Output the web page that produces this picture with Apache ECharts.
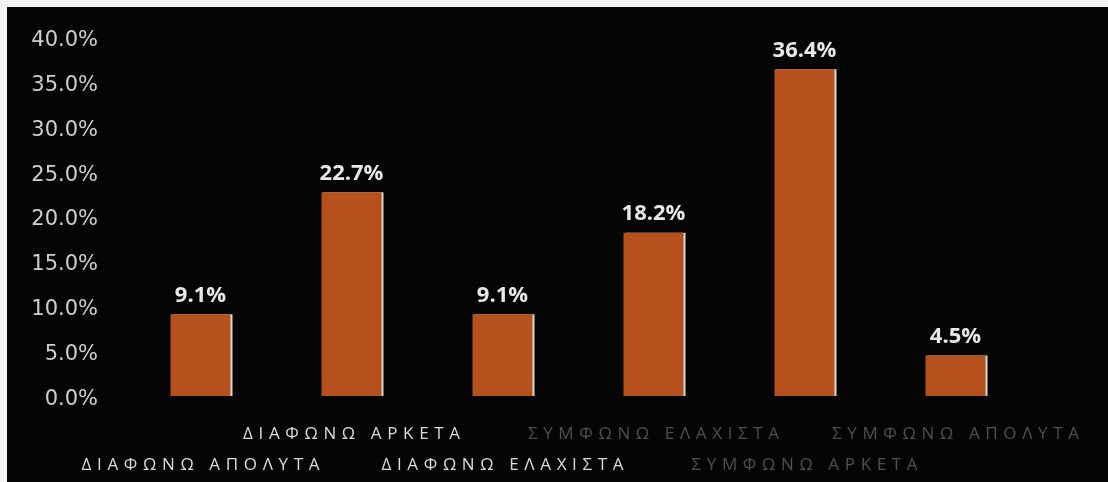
<!DOCTYPE html>
<html>
<head>
<meta charset="utf-8">
<script src="https://cdn.jsdelivr.net/npm/echarts@6/dist/echarts.min.js"></script>
<style>
  html, body { margin: 0; padding: 0; background: #f4f4f6; }
  #chart { width: 1108px; height: 482px; }
</style>
</head>
<body>
<div id="chart"></div>
<script>
// Survey answers and share of respondents (%)
const categories = [
  'ΔΙΑΦΩΝΩ ΑΠΟΛΥΤΑ',
  'ΔΙΑΦΩΝΩ ΑΡΚΕΤΑ',
  'ΔΙΑΦΩΝΩ ΕΛΑΧΙΣΤΑ',
  'ΣΥΜΦΩΝΩ ΕΛΑΧΙΣΤΑ',
  'ΣΥΜΦΩΝΩ ΑΡΚΕΤΑ',
  'ΣΥΜΦΩΝΩ ΑΠΟΛΥΤΑ'
];
const shares = [9.1, 22.7, 9.1, 18.2, 36.4, 4.5];
// Which labels print faintly
const faded = [false, false, false, true, true, true];

const yMin = 0, yMax = 40, yStep = 5;

// Widen the tracking of the category captions with thin spaces
const spaced = s => s.split('').join('\u2009\u2009');

const chart = echarts.init(document.getElementById('chart'));
chart.setOption({
  backgroundColor: '#050505',
  animation: false,
  graphic: [
    { type: 'rect', left: 0, top: 0, shape: { width: 1108, height: 7 }, style: { fill: '#f2f2f4' } },
    { type: 'rect', left: 0, top: 0, shape: { width: 7, height: 482 }, style: { fill: '#f2f2f4' } }
  ],
  grid: { left: 125, right: 77, top: 37, bottom: 86, outerBoundsMode: 'none' },
  xAxis: {
    type: 'category',
    data: categories,
    axisLine: { show: false },
    axisTick: { show: false },
    axisLabel: {
      interval: 0,
      margin: 23,
      fontFamily: 'Open Sans',
      fontSize: 17,
      lineHeight: 31,
      formatter: (v, i) => {
        const tag = faded[i] ? 'f' : 'n';
        const txt = '{' + tag + '|' + spaced(v) + '}';
        return i % 2 === 0 ? '{n| }\n' + txt : txt;
      },
      rich: {
        n: { color: '#dcdcdc', fontFamily: 'Open Sans', fontSize: 17, lineHeight: 31 },
        f: { color: '#505050', fontFamily: 'Open Sans', fontSize: 17, lineHeight: 31 }
      }
    }
  },
  yAxis: {
    type: 'value',
    min: yMin,
    max: yMax,
    interval: yStep,
    axisLine: { show: false },
    axisTick: { show: false },
    splitLine: { show: false },
    axisLabel: {
      margin: 27,
      formatter: v => '{t|' + v.toFixed(1) + '%}',
      rich: {
        t: {
          color: '#cfcfcf',
          fontFamily: 'DejaVu Sans',
          fontSize: 21,
          padding: [7, 0, 0, 0]
        }
      }
    }
  },
  series: [{
    type: 'bar',
    data: shares,
    barWidth: 60,
    itemStyle: {
      color: '#b5511d',
      shadowColor: 'rgba(240,240,230,0.9)',
      shadowOffsetX: 2,
      shadowBlur: 0
    },
    label: {
      show: true,
      position: 'top',
      distance: 8,
      color: '#e8e8e8',
      fontFamily: 'Open Sans',
      fontWeight: 'bold',
      fontSize: 22,
      formatter: p => p.value.toFixed(1) + '%'
    }
  }]
});
</script>
</body>
</html>
